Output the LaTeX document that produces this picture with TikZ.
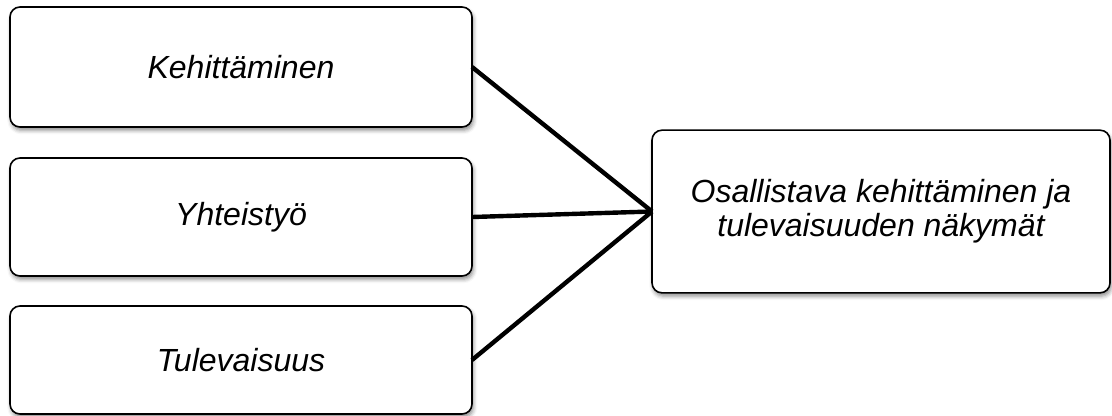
\documentclass[tikz,border=0pt]{standalone}
\usepackage{fontspec}
\setmainfont{Liberation Sans}
\usetikzlibrary{shadows.blur}
\begin{document}
\begin{tikzpicture}[x=0.75pt,y=-0.75pt,
  box/.style={draw=black, line width=1.2pt, rounded corners=7.5pt, fill=white,
    inner sep=0pt, outer sep=0pt, align=center,
    font=\fontsize{24}{25.5}\selectfont\itshape,
    blur shadow={shadow xshift=1pt, shadow yshift=-2.5pt, shadow blur radius=3pt, shadow opacity=45}},
  link/.style={line width=3.3pt}]
\useasboundingbox (0,0) rectangle (1112,415);
\node[box, minimum width=346.5pt, minimum height=90pt] (b1) at (241,67) {Kehittäminen};
\node[box, minimum width=346.5pt, minimum height=88.5pt] (b2) at (241,217) {Yhteistyö};
\node[box, minimum width=346.5pt, minimum height=81pt] (b3) at (241,360) {Tulevaisuus};
\node[box, minimum width=343.5pt, minimum height=122pt] (r) at (881,211.5) {Osallistava kehittäminen ja\\tulevaisuuden näkymät};
\draw[link] (b1.east) -- (r.west);
\draw[link] (b2.east) -- (r.west);
\draw[link] (b3.east) -- (r.west);
\end{tikzpicture}
\end{document}
